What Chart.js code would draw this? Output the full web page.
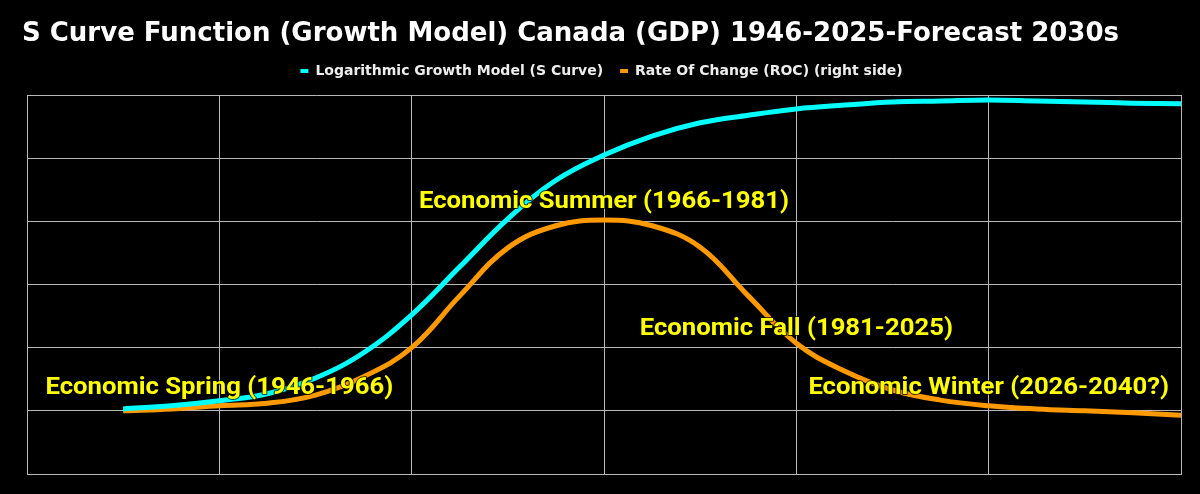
<!DOCTYPE html>
<html>
<head>
<meta charset="utf-8">
<script src="https://cdn.jsdelivr.net/npm/chart.js@4.4.1/dist/chart.umd.min.js"></script>
<style>
  html, body { margin: 0; padding: 0; background: #000; }
  #wrap { width: 1200px; height: 494px; position: relative; }
</style>
</head>
<body>
<div id="wrap"><canvas id="sCurveChart"></canvas></div>
<script>
// x positions (arbitrary time units, 20 per grid column)
const xValues = [10, 15, 20, 25, 30, 35, 40, 45, 50, 55, 60, 65, 70, 75, 80, 85, 90, 95, 100, 105, 110, 115, 120];

// S curve (left side)
const sCurve = [10.3, 10.8, 11.6, 12.7, 15.2, 19.2, 25.2, 32.8, 40.4, 46.5, 50.5, 53.5, 55.6, 56.8, 57.8, 58.4, 58.9, 59.05, 59.2, 59.05, 58.9, 58.7, 58.6];

// rate of change (right side)
const roc = [10.0, 10.3, 10.8, 11.2, 12.5, 15.4, 20.0, 28.2, 35.8, 39.3, 40.2, 39.3, 35.9, 28.2, 20.7, 16.3, 13.3, 11.7, 10.8, 10.3, 10.0, 9.7, 9.3];

const seasonLabels = ['Economic Spring (1946-1966)', 'Economic Summer (1966-1981)', 'Economic Fall (1981-2025)', 'Economic Winter (2026-2040?)'];
const seasonX = [20, 60, 80, 100];
const seasonY = [12.6, 42.1, 22.0, 12.6];

const seasonText = {
  id: 'seasonText',
  afterDatasetsDraw(chart) {
    const { ctx, scales } = chart;
    ctx.save();
    ctx.font = 'bold 24px Roboto';
    ctx.textAlign = 'center';
    ctx.textBaseline = 'alphabetic';
    ctx.lineJoin = 'round';
    seasonLabels.forEach((txt, i) => {
      const px = scales.x.getPixelForValue(seasonX[i]);
      const py = scales.y.getPixelForValue(seasonY[i]);
      ctx.save();
      ctx.translate(px, py);
      ctx.scale(1.07, 1);
      ctx.strokeStyle = 'rgba(0,0,0,0.7)';
      ctx.lineWidth = 2;
      ctx.strokeText(txt, 0, 0);
      ctx.fillStyle = '#ffff00';
      ctx.fillText(txt, 0, 0);
      ctx.restore();
    });
    ctx.restore();
  }
};

const ctx = document.getElementById('sCurveChart').getContext('2d');

const chart = new Chart(ctx, {
  type: 'line',
  data: {
    labels: xValues,
    datasets: [{
      label: 'Logarithmic Growth Model (S Curve)',
      data: xValues.map((x, i) => ({ x: x, y: sCurve[i] })),
      borderColor: '#00ffff',
      backgroundColor: '#00ffff',
      borderWidth: 5,
      pointRadius: 0,
      tension: 0.4,
      yAxisID: 'y'
    },
    {
      label: 'Rate Of Change (ROC) (right side)',
      data: xValues.map((x, i) => ({ x: x, y: roc[i] })),
      borderColor: '#ff9900',
      backgroundColor: '#ff9900',
      borderWidth: 5,
      pointRadius: 0,
      tension: 0.4,
      yAxisID: 'y1'
    }]
  },
  options: {
    responsive: true,
    maintainAspectRatio: false,
    animation: false,
    layout: { padding: { left: 22, right: 19, bottom: 20, top: 0 } },
    plugins: {
      title: {
        display: true,
        text: 'S Curve Function (Growth Model) Canada (GDP) 1946-2025-Forecast 2030s',
        align: 'start',
        color: '#ffffff',
        font: { family: 'DejaVu Sans', size: 26, weight: 'bold', lineHeight: 1 },
        padding: { top: 21, bottom: 0 }
      },
      legend: {
        labels: {
          color: '#eeeeee',
          boxWidth: 8,
          boxHeight: 4,
          padding: 17,
          font: { family: 'DejaVu Sans', size: 14, weight: 'bold' },
          generateLabels: (c) => Chart.defaults.plugins.legend.labels.generateLabels(c).map(item => ({ ...item, lineWidth: 0 }))
        }
      },
      tooltip: { enabled: false }
    },
    scales: {
      x: {
        type: 'linear',
        min: 0,
        max: 120,
        ticks: { display: false, stepSize: 20 },
        grid: { color: '#b8b8b8', drawTicks: false },
        border: { color: '#b8b8b8' }
      },
      xTop: {
        type: 'linear',
        position: 'top',
        min: 0,
        max: 120,
        ticks: { display: false },
        grid: { display: false },
        border: { display: false },
        afterFit: (scale) => { scale.height = 7; }
      },
      y: {
        min: 0,
        max: 60,
        ticks: { display: false, stepSize: 10 },
        grid: { color: '#b8b8b8', drawTicks: false },
        border: { color: '#b8b8b8' },
        afterFit: (scale) => { scale.width = 5; }
      },
      y1: {
        position: 'right',
        min: 0,
        max: 60,
        ticks: { display: false, stepSize: 10 },
        grid: { drawOnChartArea: false, drawTicks: false },
        border: { color: '#b8b8b8' }
      }
    }
  },
  plugins: [seasonText]
});
</script>
</body>
</html>
